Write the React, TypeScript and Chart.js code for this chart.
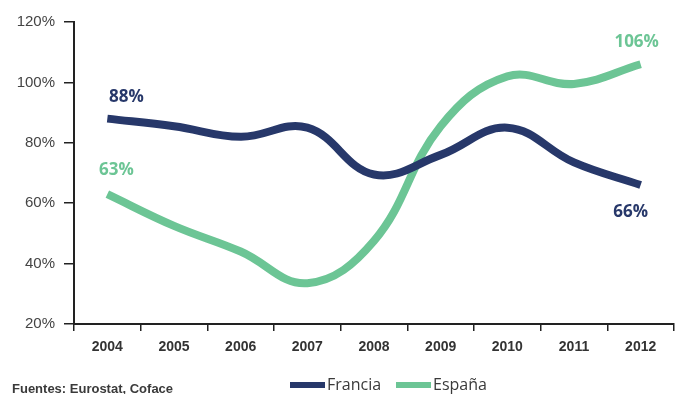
import React, { useEffect, useRef } from "react";
import { Chart, registerables } from "chart.js";

Chart.register(...registerables);

const years = ["2004", "2005", "2006", "2007", "2008", "2009", "2010", "2011", "2012"];
const francia = [88, 85.5, 82, 85, 69.5, 76, 85, 73.5, 66];
const espana = [63, 52.5, 44, 33.5, 47.5, 85.5, 102, 99.5, 106];
const yTicks = [20, 40, 60, 80, 100, 120];
const sourceNote = "Fuentes: Eurostat, Coface";

const NAVY = "#27386a";
const GREEN = "#6cc595";
const TEXT = "#3a3a3a";

// value callouts: dataset index, point index, offset from the point
const callouts = [
  { ds: 0, i: 0, dx: 19, dy: -21 },
  { ds: 1, i: 0, dx: 9, dy: -24 },
  { ds: 1, i: 8, dx: -4, dy: -22 },
  { ds: 0, i: 8, dx: -10, dy: 27 },
];

const calloutPlugin = {
  id: "callouts",
  afterDatasetsDraw(chart: any) {
    const { ctx } = chart;
    const xs = chart.scales.x;
    const ys = chart.scales.y;
    ctx.save();
    ctx.font = "bold 17px 'Open Sans', 'DejaVu Sans', sans-serif";
    ctx.textAlign = "center";
    ctx.textBaseline = "middle";
    for (const c of callouts) {
      const ds = chart.data.datasets[c.ds];
      const v = ds.data[c.i] as number;
      const x = xs.getPixelForValue(c.i) + c.dx;
      const y = ys.getPixelForValue(v) + c.dy;
      ctx.fillStyle = ds.borderColor;
      ctx.fillText(`${Math.round(v)}%`, x, y);
    }
    ctx.restore();
  },
};

const footerPlugin = {
  id: "footer",
  afterDraw(chart: any) {
    const { ctx } = chart;
    ctx.save();
    ctx.fillStyle = TEXT;
    ctx.textBaseline = "middle";
    ctx.textAlign = "left";
    ctx.font = "bold 13px 'Liberation Sans', Arial, sans-serif";
    ctx.fillText(sourceNote, 12, 389);

    ctx.font = "16px 'Open Sans', 'DejaVu Sans', sans-serif";
    let x = 290;
    chart.data.datasets.forEach((ds: any) => {
      ctx.fillStyle = ds.borderColor;
      ctx.fillRect(x, 382, 35, 6);
      ctx.fillStyle = TEXT;
      ctx.fillText(ds.label, x + 37, 385);
      x += 106;
    });
    ctx.restore();
  },
};

export default function App() {
  const ref = useRef<HTMLCanvasElement | null>(null);

  useEffect(() => {
    document.body.style.margin = "0";
    const canvas = ref.current!;
    const chart = new Chart(canvas, {
      type: "line",
      data: {
        labels: years,
        datasets: [
          {
            label: "Francia",
            data: francia,
            borderColor: NAVY,
            backgroundColor: NAVY,
            borderWidth: 8,
            tension: 0.4,
            pointRadius: 0,
            borderCapStyle: "butt",
          },
          {
            label: "España",
            data: espana,
            borderColor: GREEN,
            backgroundColor: GREEN,
            borderWidth: 8,
            tension: 0.4,
            pointRadius: 0,
            borderCapStyle: "butt",
          },
        ],
      },
      options: {
        animation: false,
        responsive: false,
        layout: { padding: { top: 22, right: 6, bottom: 0, left: 0 } },
        plugins: { legend: { display: false }, tooltip: { enabled: false } },
        scales: {
          x: {
            offset: true,
            grid: { offset: true, drawOnChartArea: false, color: "#222", lineWidth: 1.5, tickLength: 7 },
            border: { color: "#222", width: 2 },
            ticks: {
              color: "#333",
              padding: 8,
              font: { family: "'Liberation Sans Narrow', 'Arial Narrow', 'Liberation Sans', sans-serif", size: 14, weight: "bold" },
            },
            afterFit(scale: any) {
              scale.height = 70;
            },
          },
          y: {
            min: 20,
            max: 120,
            afterBuildTicks(scale: any) {
              scale.ticks = yTicks.map((v) => ({ value: v }));
            },
            grid: { drawOnChartArea: false, color: "#222", lineWidth: 1.5, tickLength: 10 },
            border: { color: "#222", width: 2 },
            ticks: {
              color: "#444",
              padding: 9,
              font: { family: "'Liberation Sans', Arial, sans-serif", size: 15 },
              callback: (v: any) => `${v}%`,
            },
            afterFit(scale: any) {
              scale.width = 74;
            },
          },
        },
      },
      plugins: [calloutPlugin, footerPlugin],
    });
    return () => chart.destroy();
  }, []);

  return (
    <div style={{ position: "relative", width: 680, height: 394, background: "#fff" }}>
      <canvas ref={ref} width={680} height={394} />
    </div>
  );
}
